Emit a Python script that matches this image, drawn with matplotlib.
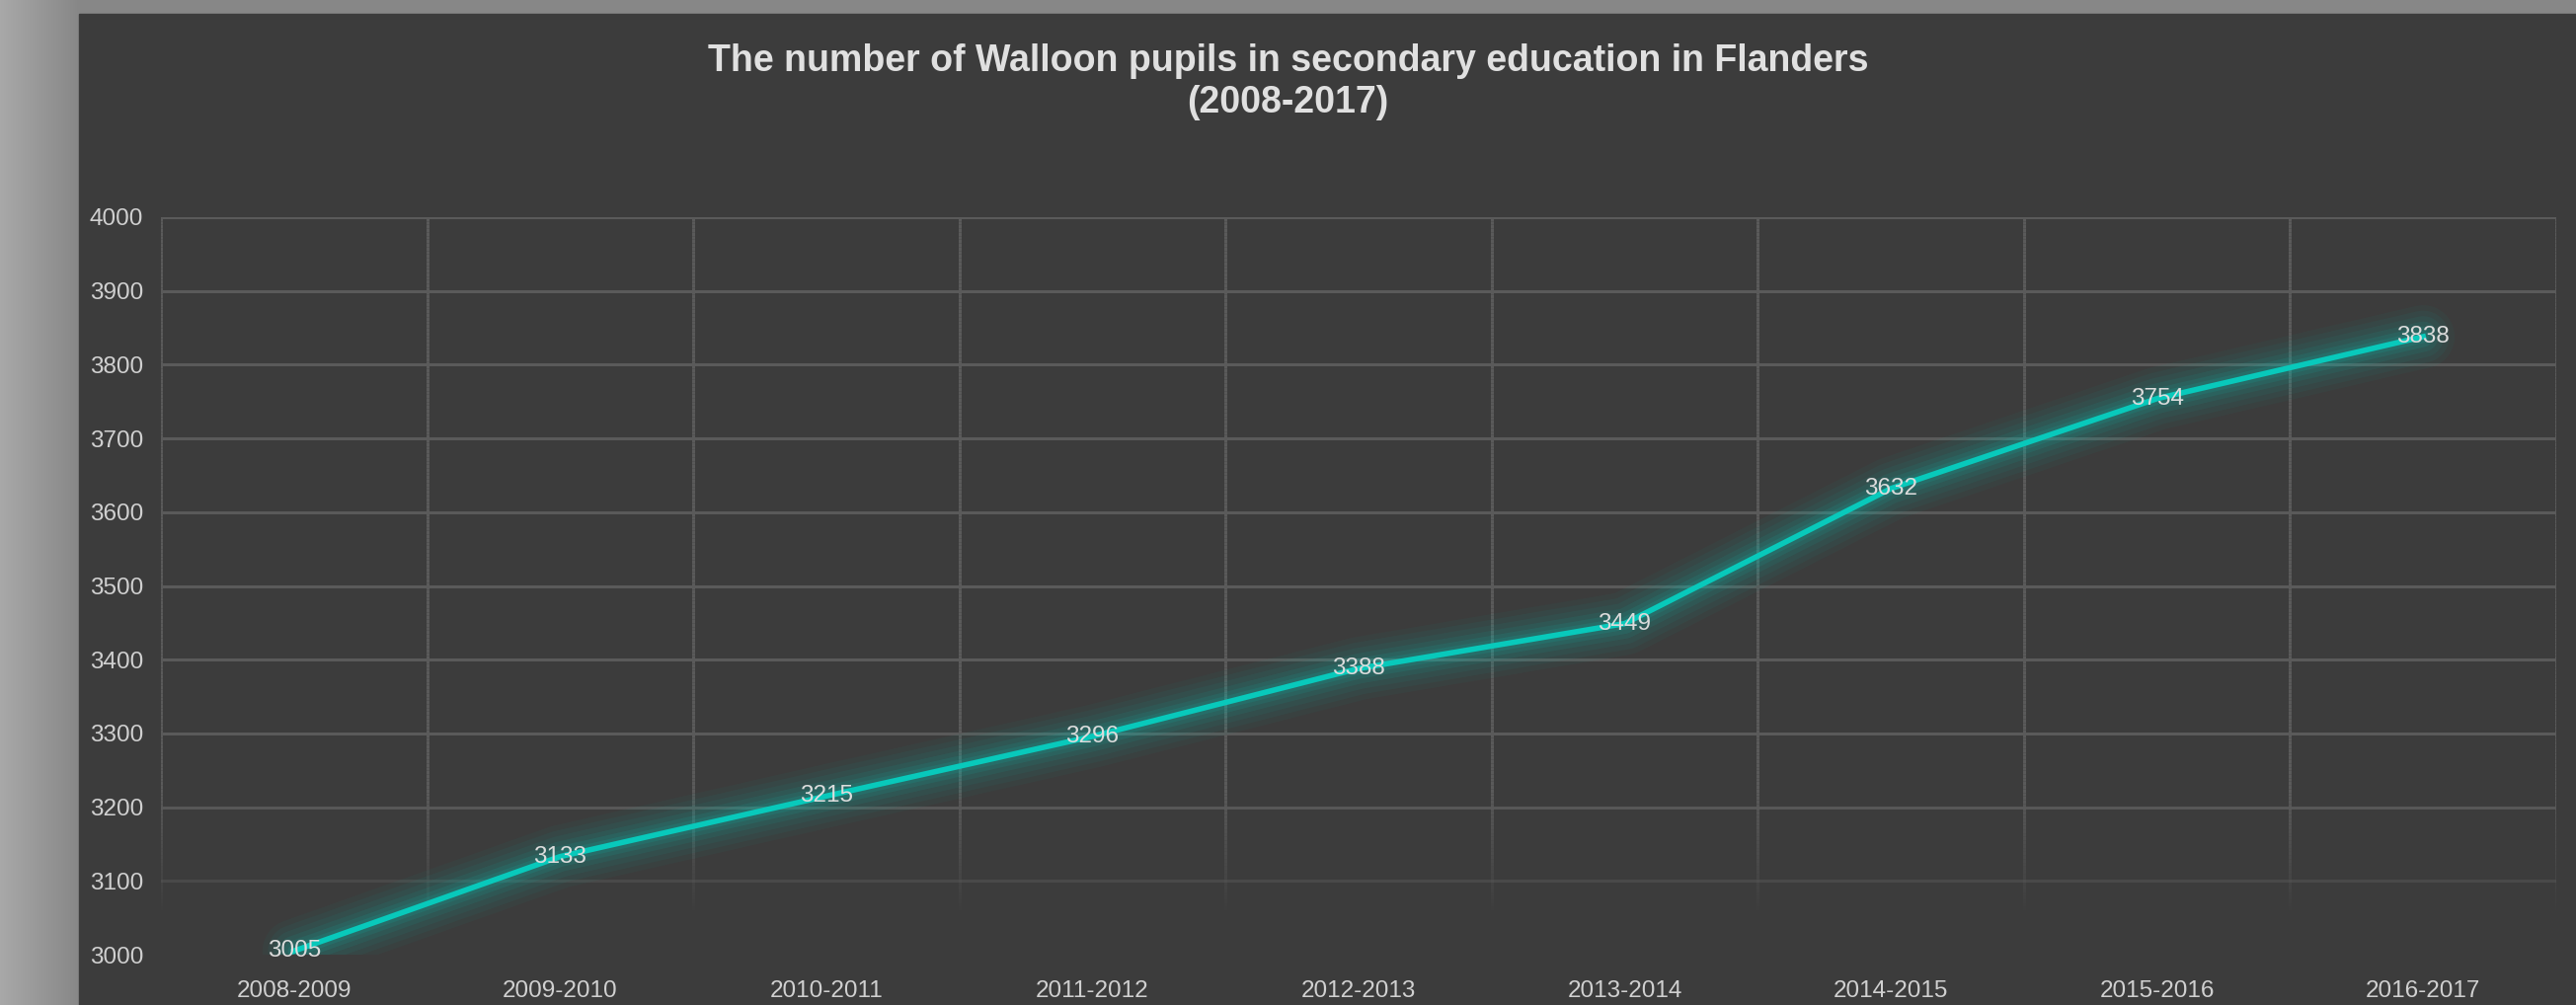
import numpy as np
import matplotlib
matplotlib.use("Agg")
import matplotlib.pyplot as plt
from matplotlib.collections import LineCollection
from matplotlib.patches import Rectangle

plt.rcParams['font.family'] = ['Liberation Sans', 'DejaVu Sans']

years = ["2008-2009", "2009-2010", "2010-2011", "2011-2012", "2012-2013",
         "2013-2014", "2014-2015", "2015-2016", "2016-2017"]
pupils = [3005, 3133, 3215, 3296, 3388, 3449, 3632, 3754, 3838]
yticks = [3000, 3100, 3200, 3300, 3400, 3500, 3600, 3700, 3800, 3900, 4000]

W, H = 2609, 1018
fig = plt.figure(figsize=(W / 100, H / 100), dpi=100)

# grey surround with a soft shadow on the left
bg = fig.add_axes([0, 0, 1, 1])
xs = np.arange(W)
col = np.full(W, 0.53)
col[:80] = 0.66 - 0.13 * (xs[:80] / 80.0)
img = np.tile(col, (H, 1))
img = np.dstack([img, img, img])
bg.imshow(img, aspect='auto', extent=[0, W, H, 0])
bg.add_patch(Rectangle((80, 14), W - 80, H - 14, color='#3c3c3c'))
bg.set_xlim(0, W)
bg.set_ylim(H, 0)
bg.axis('off')

ax = fig.add_axes([163 / W, 1 - 967 / H, (2589 - 163) / W, (967 - 220) / H])
ax.set_facecolor('none')
x = np.arange(len(years))
ax.set_xlim(-0.5, len(years) - 0.5)
ax.set_ylim(3000, 4000)
for s in ax.spines.values():
    s.set_visible(False)

# gridlines fading out toward the bottom
grid_col = '#5a5a5a'
for yv in yticks:
    a = np.clip((yv - 3000) / 220.0, 0, 1)
    if a > 0:
        ax.axhline(yv, color=grid_col, lw=2.2, alpha=a, zorder=1)
ys = np.linspace(3000, 4000, 201)
for xv in np.arange(-0.5, len(years), 1.0):
    segs = [[(xv, ys[i]), (xv, ys[i + 1])] for i in range(len(ys) - 1)]
    alph = np.clip((ys[:-1] - 3050) / 170.0, 0, 1)
    colors = [(0.353, 0.353, 0.353, a) for a in alph]
    ax.add_collection(LineCollection(segs, colors=colors, linewidths=2.2, zorder=1))

# glowing line
teal = '#08c9bb'
for lw, a in [(46, 0.04), (38, 0.05), (30, 0.06), (22, 0.08), (15, 0.1), (9, 0.12)]:
    ax.plot(x, pupils, color=teal, lw=lw, alpha=a, solid_capstyle='round',
            solid_joinstyle='round', zorder=2)
ax.plot(x, pupils, color=teal, lw=4, solid_joinstyle='round', zorder=3)

for xi, v in zip(x, pupils):
    ax.text(xi, v, str(v), ha='center', va='center', color='#dcdcdc',
            fontsize=17.5, zorder=4)

ax.set_xticks(x)
ax.set_xticklabels(years)
ax.set_yticks(yticks)
ax.tick_params(length=0, colors='#d0d0d0', labelsize=17.5)
ax.tick_params(axis='x', pad=19)
ax.tick_params(axis='y', pad=13)

fig.text(0.5, 1 - 62 / H, "The number of Walloon pupils in secondary education in Flanders",
         ha='center', va='center', color='#e0e0e0', fontsize=27, fontweight='bold')
fig.text(0.5, 1 - 104 / H, "(2008-2017)", ha='center', va='center',
         color='#e0e0e0', fontsize=27, fontweight='bold')

fig.savefig("out.png", dpi=100)
